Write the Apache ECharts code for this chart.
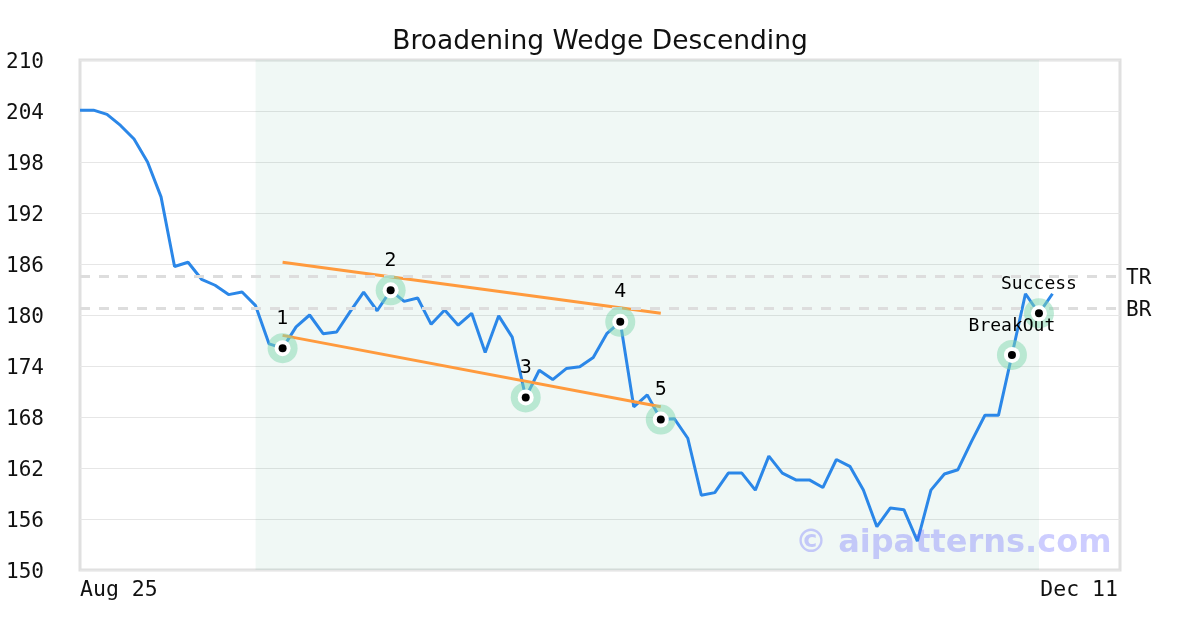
<!DOCTYPE html>
<html>
<head>
<meta charset="utf-8">
<script src="https://cdn.jsdelivr.net/npm/echarts@6/dist/echarts.min.js"></script>
<style>
  html, body { margin: 0; padding: 0; background: #fff; }
  #chart { width: 1200px; height: 630px; }
</style>
</head>
<body>
<div id="chart"></div>
<script>
// ---- Data ----
const titleText = 'Broadening Wedge Descending';
// trading-day categories Aug 25 .. Dec 11 (weekdays, Labor Day skipped)
const holidays = ['2025-09-01'];
const dates = [];
(function () {
  const months = ['Jan','Feb','Mar','Apr','May','Jun','Jul','Aug','Sep','Oct','Nov','Dec'];
  const d = new Date(Date.UTC(2025, 7, 25));
  const end = new Date(Date.UTC(2025, 11, 11));
  while (d <= end) {
    const wd = d.getUTCDay();
    const iso = d.toISOString().slice(0, 10);
    if (wd !== 0 && wd !== 6 && holidays.indexOf(iso) < 0) {
      dates.push(months[d.getUTCMonth()] + ' ' + d.getUTCDate());
    }
    d.setUTCDate(d.getUTCDate() + 1);
  }
})();

const prices = [
  204.1, 204.1, 203.6, 202.3, 200.7, 198.0, 193.9, 185.7, 186.2, 184.2,
  183.5, 182.4, 182.7, 181.1, 176.6, 176.1, 178.6, 180.0, 177.8, 178.0,
  180.4, 182.7, 180.5, 182.9, 181.6, 182.0, 178.9, 180.6, 178.8, 180.2,
  175.6, 179.9, 177.4, 170.3, 173.5, 172.4, 173.7, 173.9, 175.0, 177.8,
  179.2, 169.2, 170.6, 167.7, 167.8, 165.5, 158.8, 159.1, 161.4, 161.4,
  159.4, 163.4, 161.4, 160.6, 160.6, 159.7, 163.0, 162.2, 159.4, 155.1,
  157.3, 157.1, 153.4, 159.4, 161.3, 161.8, 165.1, 168.2, 168.2, 175.3,
  182.5, 180.2, 182.5
];

// pattern points (category index) and labels
const pointIdx    = [15, 23, 33, 40, 43, 69, 71];
const pointLabels = ['1', '2', '3', '4', '5', 'BreakOut', 'Success'];

// wedge trend lines: [startIdx, startVal, endIdx, endVal]
const upperTrend = [15, 186.2, 43, 180.2];
const lowerTrend = [15, 177.6, 43, 169.2];

// horizontal levels
const levelNames  = ['TR', 'BR'];
const levelValues = [184.6, 180.8];

// pattern shaded range (category index)
const patternRange = [13, 71];

const yTicks = { min: 150, max: 210, interval: 6 };

// ---- Chart ----
const chart = echarts.init(document.getElementById('chart'), null, { renderer: 'canvas' });
const mono = '"DejaVu Sans Mono", monospace';
const sans = '"DejaVu Sans", sans-serif';
const lastIdx = dates.length - 1;

const markerData = pointIdx.map(i => [i, prices[i]]);

const option = {
  animation: false,
  backgroundColor: '#ffffff',
  title: {
    text: titleText,
    left: 'center',
    top: 24,
    textStyle: { fontFamily: sans, fontSize: 26.5, fontWeight: 'normal', color: '#111' }
  },
  grid: {
    left: 80, right: 80, top: 60, bottom: 60,
    show: true, borderColor: '#e0e0e0', borderWidth: 3, backgroundColor: 'transparent'
  },
  xAxis: {
    type: 'category',
    data: dates,
    boundaryGap: false,
    axisLine: { show: false },
    axisTick: { show: false },
    splitLine: { show: false },
    axisLabel: {
      interval: (idx) => idx === 0 || idx === lastIdx,
      alignMinLabel: 'left',
      alignMaxLabel: 'right',
      margin: 9,
      fontFamily: mono, fontSize: 21.5, color: '#111',
      padding: [0, 2, 0, 0]
    }
  },
  yAxis: {
    type: 'value',
    min: yTicks.min, max: yTicks.max, interval: yTicks.interval,
    axisLine: { show: false },
    axisTick: { show: false },
    splitLine: { lineStyle: { color: '#e6e6e6', width: 1 } },
    axisLabel: {
      margin: 36,
      formatter: (v) => '{a|' + v + '}',
      rich: { a: { fontFamily: mono, fontSize: 21, color: '#111', padding: [6, 0, 0, 0] } }
    }
  },
  graphic: [{
    type: 'text',
    left: 795, top: 528,
    z: 100,
    style: {
      text: '© aipatterns.com',
      font: 'bold 32px "DejaVu Sans", sans-serif',
      fill: 'rgba(100,100,255,0.32)'
    }
  }],
  series: [
    {
      type: 'line',
      name: 'price',
      data: prices,
      symbol: 'none',
      z: 3,
      lineStyle: { color: '#2b87e8', width: 3 },
      markArea: {
        silent: true,
        itemStyle: { color: 'rgba(46,160,110,0.07)' },
        data: [[{ xAxis: dates[patternRange[0]] }, { xAxis: dates[patternRange[1]] }]]
      },
      markLine: {
        silent: true,
        symbol: 'none',
        lineStyle: { color: '#dddddd', width: 3, type: [10, 9] },
        label: {
          position: 'end', distance: 6,
          formatter: '{a|{b}}',
          rich: { a: { fontFamily: mono, fontSize: 21, color: '#111', padding: [5, 0, 0, 0] } }
        },
        data: levelNames.map((n, k) => ({ name: n, yAxis: levelValues[k] }))
      }
    },
    {
      type: 'line', name: 'upper', symbol: 'none', z: 4,
      lineStyle: { color: '#ff9a3d', width: 3 },
      data: [[upperTrend[0], upperTrend[1]], [upperTrend[2], upperTrend[3]]]
    },
    {
      type: 'line', name: 'lower', symbol: 'none', z: 4,
      lineStyle: { color: '#ff9a3d', width: 3 },
      data: [[lowerTrend[0], lowerTrend[1]], [lowerTrend[2], lowerTrend[3]]]
    },
    {
      type: 'scatter', name: 'halo', z: 5,
      symbolSize: 30,
      itemStyle: { color: 'rgba(130,215,175,0.5)', opacity: 1 },
      label: {
        show: true, position: 'top', distance: 5,
        formatter: (p) => pointLabels[p.dataIndex],
        fontSize: 19, color: '#000',
        fontFamily: sans
      },
      data: markerData.map((d, k) => ({
        value: d,
        label: k >= 5 ? { fontFamily: mono, fontSize: 18 } : {}
      }))
    },
    {
      type: 'scatter', name: 'ring', z: 6,
      symbolSize: 16,
      itemStyle: { color: '#ffffff', opacity: 1 },
      data: markerData
    },
    {
      type: 'scatter', name: 'dot', z: 7,
      symbolSize: 8,
      itemStyle: { color: '#000000', opacity: 1 },
      data: markerData
    }
  ]
};
chart.setOption(option);
</script>
</body>
</html>
